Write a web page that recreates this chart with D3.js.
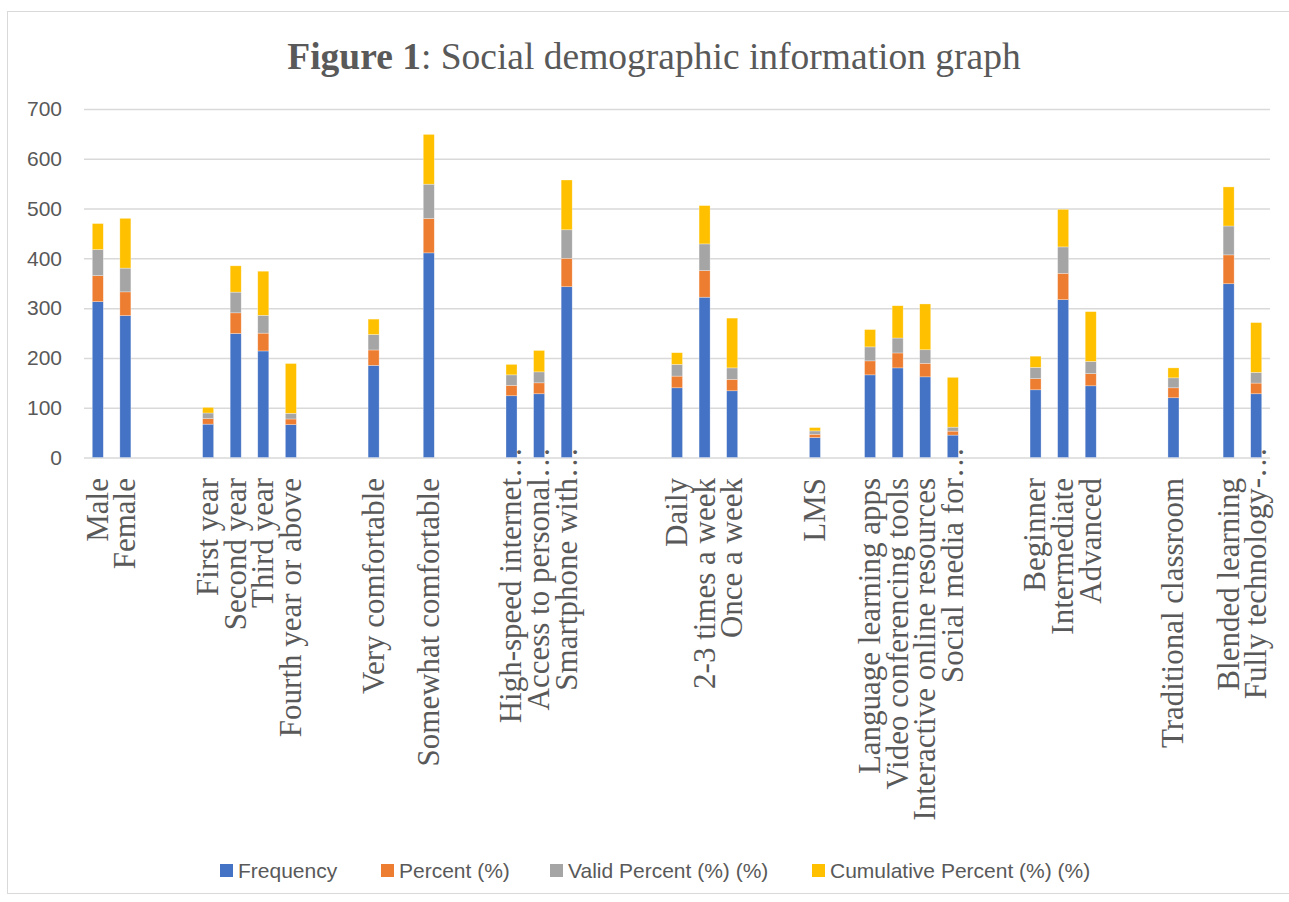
<!DOCTYPE html>
<html>
<head>
<meta charset="utf-8">
<script src="https://cdn.jsdelivr.net/npm/d3@7"></script>
<style>
  body { margin: 0; background: #fff; }
  svg { display: block; }
</style>
</head>
<body>
<div id="chart"></div>
<script>
// Category labels, one per slot (empty strings are the gaps between groups)
const categories = [
    'Male', 'Female', '', '',
    'First year', 'Second year', 'Third year', 'Fourth year or above', '', '',
    'Very comfortable', '', 'Somewhat comfortable', '', '',
    'High-speed internet…', 'Access to personal…', 'Smartphone with…', '', '', '',
    'Daily', '2-3 times a week', 'Once a week', '', '',
    'LMS', '',
    'Language learning apps', 'Video conferencing tools', 'Interactive online resources', 'Social media for…', '', '',
    'Beginner', 'Intermediate', 'Advanced', '', '',
    'Traditional classroom', '', 'Blended learning', 'Fully technology-…'
];

const frequency = [
    313, 285, null, null,
    67, 249, 214, 66, null, null,
    185, null, 411, null, null,
    124, 128, 343, null, null, null,
    140, 322, 134, null, null,
    40, null,
    166, 180, 162, 45, null, null,
    136, 317, 144, null, null,
    120, null, 349, 128
];

const percent = [
    52.3, 47.7, null, null,
    11.2, 41.6, 35.8, 11.4, null, null,
    31, null, 69, null, null,
    21, 22, 57.2, null, null, null,
    23.5, 53.5, 23, null, null,
    6.7, null,
    28.1, 30, 27.2, 8, null, null,
    22.5, 53, 24.5, null, null,
    20, null, 58, 21.5
];

const validPercent = [
    52.3, 47.7, null, null,
    11.2, 41.6, 35.8, 11.4, null, null,
    31, null, 69, null, null,
    21, 22, 57.2, null, null, null,
    23.5, 53.5, 23, null, null,
    6.7, null,
    28.1, 30, 27.2, 8, null, null,
    22.5, 53, 24.5, null, null,
    20, null, 58, 21.5
];

const cumulativePercent = [
    52.3, 100, null, null,
    11.2, 52.8, 88.6, 100, null, null,
    31, null, 100, null, null,
    21, 43, 100, null, null, null,
    23.5, 77, 100, null, null,
    6.7, null,
    34.8, 64.8, 92, 100, null, null,
    22.5, 75.5, 100, null, null,
    20, null, 78.5, 100
];

const seriesNames = ['Frequency', 'Percent (%)', 'Valid Percent (%) (%)', 'Cumulative Percent (%) (%)'];
const seriesColors = ['#4472C4', '#ED7D31', '#A5A5A5', '#FFC000'];
const yTicks = [0, 100, 200, 300, 400, 500, 600, 700];

const width = 1289, height = 902;
const plot = { left: 84, right: 1270, top: 109, bottom: 457.5 };

const svg = d3.select('#chart').append('svg')
    .attr('width', width)
    .attr('height', height);

// chart border
svg.append('rect')
    .attr('x', 7.5).attr('y', 11.5)
    .attr('width', 1320).attr('height', 882)
    .attr('fill', 'none')
    .attr('stroke', '#d9d9d9')
    .attr('stroke-width', 1);

// title
const title = svg.append('text')
    .attr('x', 654).attr('y', 69)
    .attr('text-anchor', 'middle')
    .style('font-family', '"Liberation Serif", "Times New Roman", serif')
    .style('font-size', '37.5px')
    .style('fill', '#595959');
title.append('tspan').style('font-weight', 'bold').text('Figure 1');
title.append('tspan').text(': Social demographic information graph');

// scales
const x = d3.scaleBand()
    .domain(d3.range(categories.length))
    .range([plot.left, plot.right])
    .paddingInner(0.6)
    .paddingOuter(0.3);

const y = d3.scaleLinear()
    .domain([0, 700])
    .range([plot.bottom, plot.top]);

// y axis + gridlines
const yAxis = svg.append('g')
    .attr('transform', `translate(${plot.left},0)`)
    .call(d3.axisLeft(y)
        .tickValues(yTicks)
        .tickSize(-(plot.right - plot.left))
        .tickPadding(22));

yAxis.select('.domain').remove();
yAxis.selectAll('line')
    .attr('stroke', '#d9d9d9')
    .attr('stroke-width', 1.5);
yAxis.selectAll('text')
    .style('font-family', '"Liberation Sans", Arial, sans-serif')
    .style('font-size', '21px')
    .style('fill', '#595959');

// stacked data
const rows = categories.map((c, i) => ({
    i: i,
    vals: [frequency[i], percent[i], validPercent[i], cumulativePercent[i]]
}));

const bars = svg.append('g');
rows.forEach(r => {
    if (r.vals[0] == null) return;
    let base = 0;
    r.vals.forEach((v, k) => {
        bars.append('rect')
            .attr('x', x(r.i))
            .attr('width', x.bandwidth())
            .attr('y', y(base + v))
            .attr('height', y(base) - y(base + v))
            .attr('fill', seriesColors[k])
            .attr('stroke', '#ffffff')
            .attr('stroke-opacity', 0.5)
            .attr('stroke-width', 0.6);
        base += v;
    });
});

// category labels (rotated, serif)
const labelY = 478;
const labelFont = '"Liberation Serif", "Times New Roman", serif';
const labels = svg.append('g');
categories.forEach((c, i) => {
    if (!c) return;
    const cx = x(i) + x.bandwidth() / 2;
    const cut = c.endsWith('…');
    const main = cut ? c.slice(0, -1) : c;
    labels.append('text')
        .attr('transform', `translate(${cx},${labelY}) rotate(-90)`)
        .attr('dy', '0.32em')
        .attr('text-anchor', 'end')
        .style('font-family', labelFont)
        .style('font-size', '31px')
        .style('fill', '#595959')
        .text(main);
    if (cut) {
        labels.append('text')
            .attr('transform', `translate(${cx},${labelY}) rotate(-90)`)
            .attr('dy', '0.32em')
            .attr('text-anchor', 'start')
            .style('font-family', labelFont)
            .style('font-size', '31px')
            .style('fill', '#595959')
            .text('…');
    }
});

// legend
const legendX = [220, 381, 550, 812];
const legend = svg.append('g');
seriesNames.forEach((name, k) => {
    legend.append('rect')
        .attr('x', legendX[k]).attr('y', 864)
        .attr('width', 13).attr('height', 13)
        .attr('fill', seriesColors[k]);
    legend.append('text')
        .attr('x', legendX[k] + 18).attr('y', 878)
        .style('font-family', '"Liberation Sans", Arial, sans-serif')
        .style('font-size', '21px')
        .style('fill', '#595959')
        .text(name);
});
</script>
</body>
</html>
